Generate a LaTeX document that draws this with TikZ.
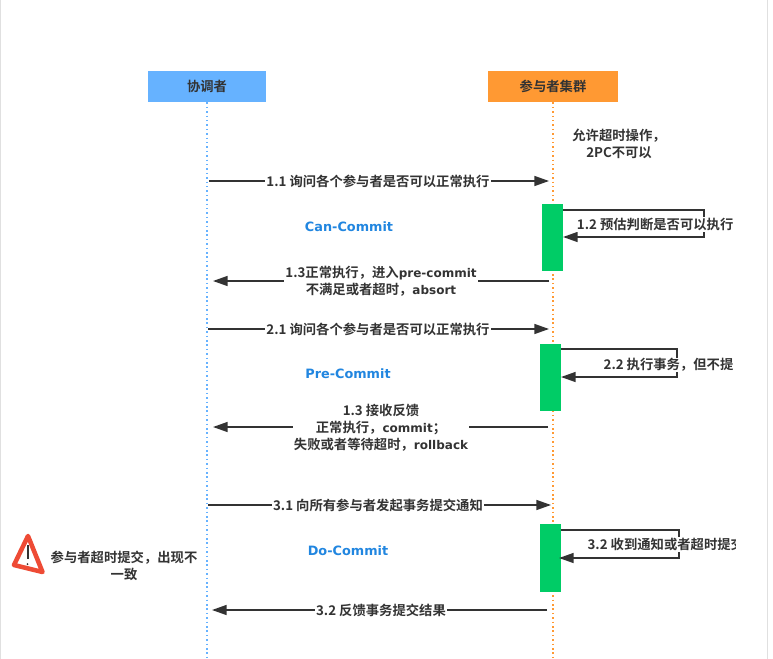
\documentclass[tikz,border=0pt]{standalone}
\usepackage{fontspec}
\setmainfont{Noto Sans CJK SC}[BoldFont={Noto Sans CJK SC Bold}]
\newfontfamily\latfont{DejaVu Sans}[BoldFont={DejaVu Sans Bold},Scale=0.9]
\newcommand{\lat}[1]{{\latfont\bfseries #1}}
\usetikzlibrary{arrows.meta}
\definecolor{ink}{HTML}{333333}
\definecolor{actgreen}{HTML}{00CC66}
\definecolor{blueh}{HTML}{66B2FF}
\definecolor{orangeh}{HTML}{FF9933}
\definecolor{phase}{HTML}{2186E0}
\definecolor{warnred}{HTML}{EE4B35}
\tikzset{
  every node/.style={font=\fontsize{10pt}{12.8pt}\selectfont\bfseries,text=ink,inner sep=0pt,align=center},
  head/.style={draw=none,minimum height=23.5pt},
  life/.style={line width=1.1pt,dash pattern=on 1.1pt off 2.2pt},
  msg/.style={draw=ink,line width=1.1pt,-{Triangle[length=11pt,width=7.5pt]}},
  label/.style={fill=white,inner xsep=1pt,inner ysep=0.5pt},
  act/.style={fill=actgreen,draw=none,minimum width=15.5pt,minimum height=50.5pt},
  phaselabel/.style={text=phase,font=\fontsize{10.7pt}{12.8pt}\selectfont\bfseries},
}
\begin{document}
\begin{tikzpicture}[x=0.75pt,y=-0.75pt]
\useasboundingbox (0,0) rectangle (773,659);
\fill[white] (0,0) rectangle (773,659);
\draw[black!12,line width=0.75pt] (0.5,0) -- (0.5,659);
\draw[black!12,line width=0.75pt] (767,0) -- (767,659);
% headers
\node[head,fill=blueh,minimum width=88.5pt] (coord) at (207,86.5) {协调者};
\node[head,fill=orangeh,minimum width=97.5pt] (part) at (553,86.5) {参与者集群};
\coordinate (coordEnd) at (207,659);
\coordinate (partEnd) at (553,659);
\draw[life,blueh] (coord.south) -- (coordEnd);
\draw[life,orangeh] (part.south) -- (partEnd);
% activations
\node[act] (a1) at (552.5,237.5) {};
\node[act] (a2) at (550.5,377.5) {};
\node[act] (a3) at (550.5,558) {};
% message end points
\coordinate (c11) at (209,181); \coordinate (p11) at (549,181);
\coordinate (p13) at (549,281); \coordinate (c13) at (213,281);
\coordinate (c21) at (208,329); \coordinate (p21) at (549,329);
\coordinate (p23) at (548,427); \coordinate (c23) at (213,427);
\coordinate (c31) at (208,505); \coordinate (p31) at (551,505);
\coordinate (p33) at (547,610); \coordinate (c33) at (212,610);
% messages
\draw[msg] (c11) -- (p11);
\node[label] (t11) at (378,181.5) {1.1 询问各个参与者是否可以正常执行};
\draw[msg] (p13) -- (c13);
\node[label] (t13) at (381,281.5) {1.3正常执行，进入\lat{pre-commit}\\不满足或者超时，\lat{absort}};
\draw[msg] (c21) -- (p21);
\node[label] (t21) at (378,329.5) {2.1 询问各个参与者是否可以正常执行};
\draw[msg] (p23) -- (c23);
\node[label] (t23) at (381,427.5) {1.3 接收反馈\\正常执行，\lat{commit}；\\失败或者等待超时，\lat{rollback}};
\draw[msg] (c31) -- (p31);
\node[label] (t31) at (378,505.5) {3.1 向所有参与者发起事务提交通知};
\draw[msg] (p33) -- (c33);
\node[label] (t33) at (381,610.5) {3.2 反馈事务提交结果};
% self messages
\coordinate (s1a) at (563,210); \coordinate (s1b) at (704,210);
\coordinate (s1c) at (704,237); \coordinate (s1d) at (563,237);
\coordinate (s2a) at (561,349); \coordinate (s2b) at (677,349);
\coordinate (s2c) at (677,377); \coordinate (s2d) at (561,377);
\coordinate (s3a) at (561,530); \coordinate (s3b) at (679,530);
\coordinate (s3c) at (679,558); \coordinate (s3d) at (559,558);
\draw[msg] (s1a) -- (s1b) -- (s1c) -- (s1d);
\draw[msg] (s2a) -- (s2b) -- (s2c) -- (s2d);
\draw[msg] (s3a) -- (s3b) -- (s3c) -- (s3d);
\begin{scope}
\clip (560,190) rectangle (735,600);
\node[label,anchor=east] (t12) at (735,224.5) {1.2 预估判断是否可以执行};
\node[label,anchor=east] (t22) at (735,365) {2.2 执行事务，但不提};
\node[label,anchor=west] (t32) at (586,544.5) {3.2 收到通知或者超时提交};
\end{scope}
% phase labels
\node[phaselabel] (pc) at (349,227) {\lat{Can-Commit}};
\node[phaselabel] (pp) at (348,374) {\lat{Pre-Commit}};
\node[phaselabel] (pd) at (348,551) {\lat{Do-Commit}};
% notes
\node (n1) at (619,143.5) {允许超时操作，\\2PC不可以};
\node (n2) at (124,565.5) {参与者超时提交，出现不\\一致};
% warning
\draw[line width=3.4pt,line join=round,draw=warnred,fill=white] (28,536) -- (14,565) -- (42.5,572) -- cycle;
\draw[line width=1.5pt,ink] (27.5,545) -- (27.5,559);
\fill[ink] (27.5,564) circle (1);
\end{tikzpicture}
\end{document}
